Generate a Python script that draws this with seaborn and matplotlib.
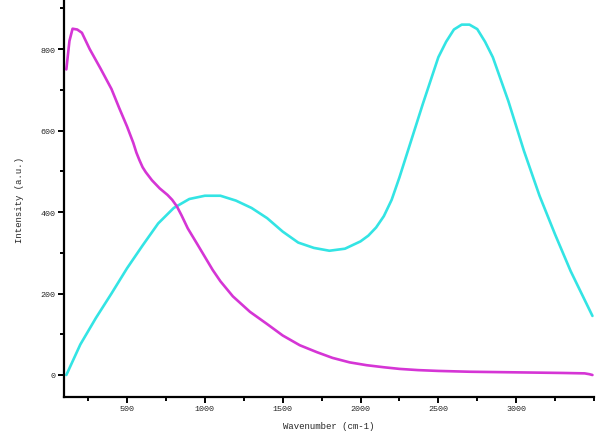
import matplotlib
matplotlib.use("Agg")
import matplotlib.pyplot as plt
import seaborn as sns
import pandas as pd
from matplotlib.ticker import MultipleLocator, FixedLocator

# magenta spectrum
magenta_x = [110, 130, 150, 180, 210, 260, 330, 400, 450, 500, 540, 560, 580, 600,
             620, 660, 710, 760, 790, 820, 850, 890, 950, 1000, 1050, 1100, 1180,
             1290, 1400, 1500, 1610, 1720, 1820, 1930, 2040, 2150, 2250, 2370, 2500,
             2700, 2900, 3100, 3300, 3440, 3470, 3490]
magenta_y = [750, 820, 850, 848, 840, 800, 752, 702, 655, 610, 570, 546, 527, 510,
             498, 478, 458, 442, 430, 414, 392, 360, 322, 290, 258, 230, 193,
             155, 125, 97, 73, 56, 42, 31, 24, 19, 15, 12, 10,
             8, 7, 6, 5, 4, 2, 0]

# cyan spectrum
cyan_x = [110, 200, 300, 400, 500, 600, 700, 800, 900, 1000, 1100, 1200, 1300,
          1400, 1500, 1600, 1700, 1800, 1900, 2000, 2050, 2100, 2150, 2200, 2250,
          2300, 2400, 2500, 2550, 2600, 2650, 2700, 2750, 2800, 2850, 2950, 3050,
          3150, 3250, 3350, 3490]
cyan_y = [0, 75, 140, 200, 262, 318, 372, 410, 432, 440, 440, 428, 410,
          385, 352, 325, 312, 305, 310, 328, 342, 362, 390, 430, 485,
          545, 665, 780, 818, 848, 860, 860, 849, 818, 780, 672, 550,
          440, 345, 255, 145]

x_major = [500, 1000, 1500, 2000, 2500, 3000]
y_major = [0, 200, 400, 600, 800]

sns.set_style("ticks")
plt.rcParams["font.family"] = ["Liberation Mono", "DejaVu Sans Mono"]

fig = plt.figure(figsize=(6.14, 4.39), dpi=100)
ax = fig.add_axes([64 / 614, 1 - 398 / 439, 530 / 614, 396 / 439])

df_m = pd.DataFrame({"x": magenta_x, "y": magenta_y})
df_c = pd.DataFrame({"x": cyan_x, "y": cyan_y})
sns.lineplot(data=df_c, x="x", y="y", color="#33e4e4", linewidth=1.9, ax=ax, sort=False)
sns.lineplot(data=df_m, x="x", y="y", color="#d535d5", linewidth=1.9, ax=ax, sort=False)

ax.set_xlim(95, 3500)
ax.set_ylim(-54, 918)
ax.xaxis.set_major_locator(FixedLocator(x_major))
ax.xaxis.set_minor_locator(FixedLocator([250, 750, 1250, 1750, 2250, 2750, 3250, 3500]))
ax.yaxis.set_major_locator(FixedLocator(y_major))
ax.yaxis.set_minor_locator(MultipleLocator(100))

for s in ["top", "right"]:
    ax.spines[s].set_visible(False)
for s in ["left", "bottom"]:
    ax.spines[s].set_linewidth(1.6)
    ax.spines[s].set_color("black")

ax.tick_params(axis="both", which="major", direction="out", length=4, width=1.4,
               labelsize=6, pad=2, color="black")
ax.tick_params(axis="both", which="minor", direction="out", length=3, width=1.4, color="black")

ax.set_xlabel("Wavenumber (cm-1)", fontsize=6.5, labelpad=6)
ax.set_ylabel("Intensity (a.u.)", fontsize=6.5, labelpad=12)

fig.savefig("out.png", dpi=100, facecolor="white")
